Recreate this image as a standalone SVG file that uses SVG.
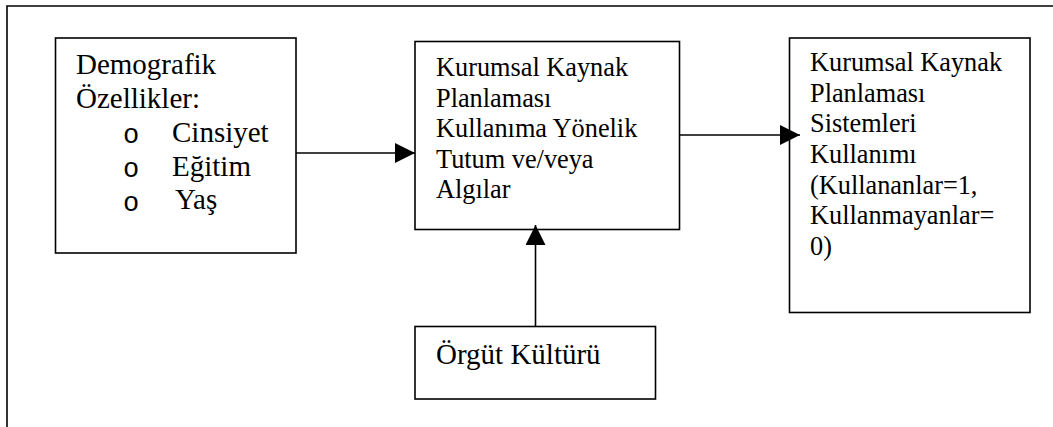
<svg xmlns="http://www.w3.org/2000/svg" width="1053" height="427" viewBox="0 0 1053 427">
<style>
.box{fill:#fff;stroke:#000;stroke-width:1.6}
.t{font-family:"Liberation Serif","Times New Roman",serif;fill:#000}
.big{font-size:29px}
.mid{font-size:26.3px}
.bul{font-family:"Liberation Mono","Courier New",monospace;font-size:27px;fill:#000}
.line{stroke:#000;stroke-width:1.6;fill:none}
</style>
<defs>
<marker id="ah" markerWidth="20" markerHeight="20" refX="20" refY="10" orient="auto" markerUnits="userSpaceOnUse">
<path d="M0,0 L20,10 L0,20 Z" fill="#000"/>
</marker>
</defs>
<rect width="1053" height="427" fill="#fff"/>
<path class="line" d="M7,430 V6 H1060"/>
<g id="demografik">
<rect class="box" x="55.5" y="38" width="240.5" height="215"/>
<text class="t big" x="76" y="74">Demografik</text>
<text class="t big" x="76" y="108">Özellikler:</text>
<text class="bul" x="123" y="143">o</text>
<text class="t big" x="172" y="142">Cinsiyet</text>
<text class="bul" x="123" y="177">o</text>
<text class="t big" x="172" y="176">Eğitim</text>
<text class="bul" x="123" y="211">o</text>
<text class="t big" x="175" y="209">Yaş</text>
</g>
<g id="tutum">
<rect class="box" x="415" y="41.5" width="264.5" height="188"/>
<text class="t mid" x="436" y="76">Kurumsal Kaynak</text>
<text class="t mid" x="436" y="107">Planlaması</text>
<text class="t mid" x="436" y="137">Kullanıma Yönelik</text>
<text class="t mid" x="436" y="168">Tutum ve/veya</text>
<text class="t mid" x="436" y="198">Algılar</text>
</g>
<g id="kullanim">
<rect class="box" x="789.5" y="38" width="240.5" height="274.5"/>
<text class="t mid" x="810" y="71">Kurumsal Kaynak</text>
<text class="t mid" x="810" y="102">Planlaması</text>
<text class="t mid" x="810" y="132">Sistemleri</text>
<text class="t mid" x="810" y="163">Kullanımı</text>
<text class="t mid" x="810" y="194">(Kullananlar=1,</text>
<text class="t mid" x="810" y="224">Kullanmayanlar=</text>
<text class="t mid" x="810" y="255">0)</text>
</g>
<g id="orgut">
<rect class="box" x="415" y="326.5" width="240.5" height="72.5"/>
<text class="t big" x="436" y="364">Örgüt Kültürü</text>
</g>
<g id="connectors">
<line class="line" x1="296" y1="153" x2="415" y2="153" marker-end="url(#ah)"/>
<line class="line" x1="679.5" y1="135" x2="800" y2="135" marker-end="url(#ah)"/>
<line class="line" x1="535.5" y1="326.5" x2="535.5" y2="225" marker-end="url(#ah)"/>
</g>
</svg>
